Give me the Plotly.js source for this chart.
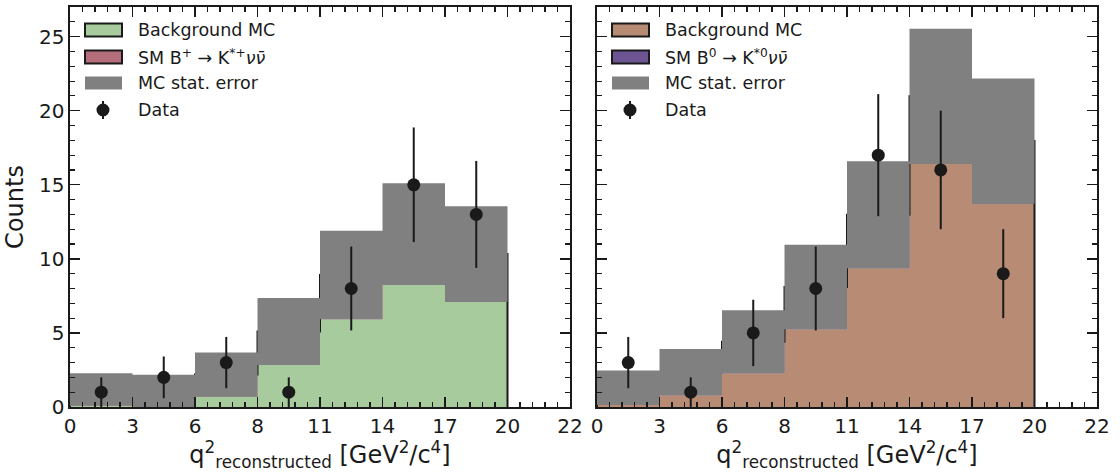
<!DOCTYPE html>
<html>
<head>
<meta charset="utf-8">
<script src="https://cdn.plot.ly/plotly-3.0.1.min.js"></script>
<style>
  html, body { margin: 0; padding: 0; background: #fff; }
  #chart { width: 1120px; height: 472px; }
</style>
</head>
<body>
<div id="chart"></div>
<script>
// q^2 bin edges, drawn as equally spaced tick labels
const binEdgeLabels = ['0', '3', '6', '8', '11', '14', '17', '20', '22'];

// Charged channel: B+ -> K*+ nu nubar
const chargedBackground = [0.09, 0.02, 0.70, 2.84, 5.92, 8.24, 7.09];
const chargedSignal     = [1.09, 1.07, 1.49, 2.26, 2.99, 3.43, 3.23];
const chargedStatErr    = [1.09, 1.09, 1.49, 2.26, 2.99, 3.43, 3.23];
const chargedData       = [1, 2, 3, 1, 8, 15, 13];
const chargedDataErr    = [1.00, 1.41, 1.73, 1.00, 2.83, 3.87, 3.61];

// Neutral channel: B0 -> K*0 nu nubar
const neutralBackground = [0.14, 0.79, 2.27, 5.25, 9.37, 16.40, 13.72];
const neutralSignal     = [1.16, 1.56, 2.13, 2.85, 3.61, 4.57, 4.23];
const neutralStatErr    = [1.16, 1.56, 2.13, 2.85, 3.61, 4.57, 4.23];
const neutralData       = [3, 1, 5, 8, 17, 16, 9];
const neutralDataErr    = [1.73, 1.00, 2.24, 2.83, 4.12, 4.00, 3.00];

const FONT = 'DejaVu Sans, Liberation Sans, sans-serif';
const INK = '#1a1a1a';
const GREY = '#808080';

function panelTraces(xa, ya, bkg, sig, err, data, dataErr, bkgColor, sigColor) {
  const n = bkg.length;
  const idx = bkg.map((_, i) => i);
  const total = bkg.map((b, i) => b + sig[i]);

  // background histogram (filled step)
  const bkgTrace = {
    type: 'scatter', mode: 'lines', xaxis: xa, yaxis: ya,
    x: idx.concat([n]), y: bkg.concat([bkg[n - 1]]),
    line: { shape: 'hv', width: 0, color: bkgColor },
    fill: 'tozeroy', fillcolor: bkgColor, hoverinfo: 'skip', showlegend: false
  };

  // signal stacked on top, outlined in black
  const sx = [0], sy = [0];
  total.forEach((t, i) => { sx.push(i); sy.push(t); });
  sx.push(n, n); sy.push(total[n - 1], 0);
  const sigTrace = {
    type: 'scatter', mode: 'lines', xaxis: xa, yaxis: ya,
    x: sx, y: sy,
    line: { shape: 'hv', width: 2, color: INK },
    fill: 'tonexty', fillcolor: sigColor, hoverinfo: 'skip', showlegend: false
  };

  // MC statistical uncertainty band around the stacked total
  const gx = [], gy = [];
  total.forEach((t, i) => {
    const lo = t - err[i], hi = t + err[i];
    gx.push(i, i + 1, i + 1, i, i, null);
    gy.push(lo, lo, hi, hi, lo, null);
  });
  const errTrace = {
    type: 'scatter', mode: 'lines', xaxis: xa, yaxis: ya,
    x: gx, y: gy, line: { width: 0, color: GREY },
    fill: 'toself', fillcolor: GREY, hoverinfo: 'skip', showlegend: false
  };

  // observed data with Poisson error bars
  const dataTrace = {
    type: 'scatter', mode: 'markers', xaxis: xa, yaxis: ya,
    x: idx.map(i => i + 0.5), y: data,
    marker: { size: 13, color: INK },
    error_y: { type: 'data', array: dataErr, width: 0, thickness: 2, color: INK },
    showlegend: false
  };
  return [bkgTrace, sigTrace, errTrace, dataTrace];
}

const traces = []
  .concat(panelTraces('x', 'y', chargedBackground, chargedSignal, chargedStatErr,
                      chargedData, chargedDataErr, '#a8cb9d', '#b46e7b'))
  .concat(panelTraces('x2', 'y2', neutralBackground, neutralSignal, neutralStatErr,
                      neutralData, neutralDataErr, '#b88b74', '#6d5493'));

// Figure geometry (pixels)
const W = 1120, H = 472;
const M = { l: 70, r: 23, t: 7, b: 65 };
const plotW = W - M.l - M.r;
const panelW = 500, gapW = plotW - 2 * panelW;

function xAxis(domain, anchor) {
  return {
    domain: domain, anchor: anchor, range: [0, binEdgeLabels.length - 1],
    tickmode: 'array', tickvals: binEdgeLabels.map((_, i) => i), ticktext: binEdgeLabels,
    ticks: 'inside', ticklen: 10, tickwidth: 1.3, tickcolor: INK,
    minor: { ticks: 'inside', ticklen: 5, tickwidth: 1.1, tickcolor: INK, dtick: 0.2, showgrid: false },
    showline: true, linewidth: 1.6, linecolor: INK, mirror: 'allticks',
    showgrid: false, zeroline: false,
    tickfont: { family: FONT, size: 20, color: INK },
    title: {
      text: 'q<sup>2</sup><sub>reconstructed</sub> [GeV<sup>2</sup>/c<sup>4</sup>]',
      font: { family: FONT, size: 24, color: INK }, standoff: 8
    }
  };
}
function yAxis(anchor, labels) {
  const ax = {
    domain: [0, 1], anchor: anchor, range: [0, 27],
    tickmode: 'linear', tick0: 0, dtick: 5,
    ticks: 'inside', ticklen: 10, tickwidth: 1.3, tickcolor: INK,
    minor: { ticks: 'inside', ticklen: 5, tickwidth: 1.1, tickcolor: INK, dtick: 1, showgrid: false },
    showline: true, linewidth: 1.6, linecolor: INK, mirror: 'allticks',
    showgrid: false, zeroline: false, showticklabels: labels,
    tickfont: { family: FONT, size: 20, color: INK }
  };
  if (labels) ax.title = { text: 'Counts', font: { family: FONT, size: 24, color: INK }, standoff: 8 };
  return ax;
}

// Hand-drawn legend inside each panel (domain coordinates)
const shapes = [], annotations = [];
function legend(xref, yref, bkgColor, sigColor, sigLabel) {
  const px = v => v / panelW;           // horizontal pixels -> domain fraction
  const py = v => 1 - v / 400;          // vertical pixels from top -> domain fraction
  const rows = [23, 50, 76, 103];
  const entries = [
    { kind: 'patch', color: bkgColor, text: 'Background MC' },
    { kind: 'patch', color: sigColor, text: sigLabel },
    { kind: 'band', color: GREY, text: 'MC stat. error' },
    { kind: 'point', text: 'Data' }
  ];
  entries.forEach((e, k) => {
    const yc = rows[k];
    if (e.kind === 'point') {
      shapes.push({ type: 'line', xref: xref, yref: yref, x0: px(33), x1: px(33),
                    y0: py(yc - 9), y1: py(yc + 9), line: { color: INK, width: 2 } });
      shapes.push({ type: 'circle', xref: xref, yref: yref, x0: px(26.5), x1: px(39.5),
                    y0: py(yc - 6.5), y1: py(yc + 6.5), fillcolor: INK, line: { width: 0 } });
    } else {
      shapes.push({ type: 'rect', xref: xref, yref: yref, x0: px(15), x1: px(52),
                    y0: py(yc - 6.5), y1: py(yc + 6.5), fillcolor: e.color,
                    line: e.kind === 'patch' ? { color: INK, width: 2 } : { width: 0 } });
    }
    annotations.push({ xref: xref, yref: yref, x: px(66), y: py(yc), xanchor: 'left', yanchor: 'middle',
                       text: e.text, showarrow: false, font: { family: FONT, size: 17.5, color: INK } });
  });
}
legend('x domain', 'y domain', '#a8cb9d', '#b46e7b', 'SM B<sup>+</sup> → K<sup>*+</sup><i>νν̄</i>');
legend('x2 domain', 'y2 domain', '#b88b74', '#6d5493', 'SM B<sup>0</sup> → K<sup>*0</sup><i>νν̄</i>');

const layout = {
  width: W, height: H, margin: M,
  paper_bgcolor: '#fff', plot_bgcolor: '#fff',
  showlegend: false,
  font: { family: FONT, color: INK },
  xaxis: xAxis([0, panelW / plotW], 'y'),
  yaxis: yAxis('x', true),
  xaxis2: xAxis([(panelW + gapW) / plotW, 1], 'y2'),
  yaxis2: yAxis('x2', false),
  shapes: shapes,
  annotations: annotations
};

Plotly.newPlot('chart', traces, layout, { displayModeBar: false, staticPlot: true });
</script>
</body>
</html>
